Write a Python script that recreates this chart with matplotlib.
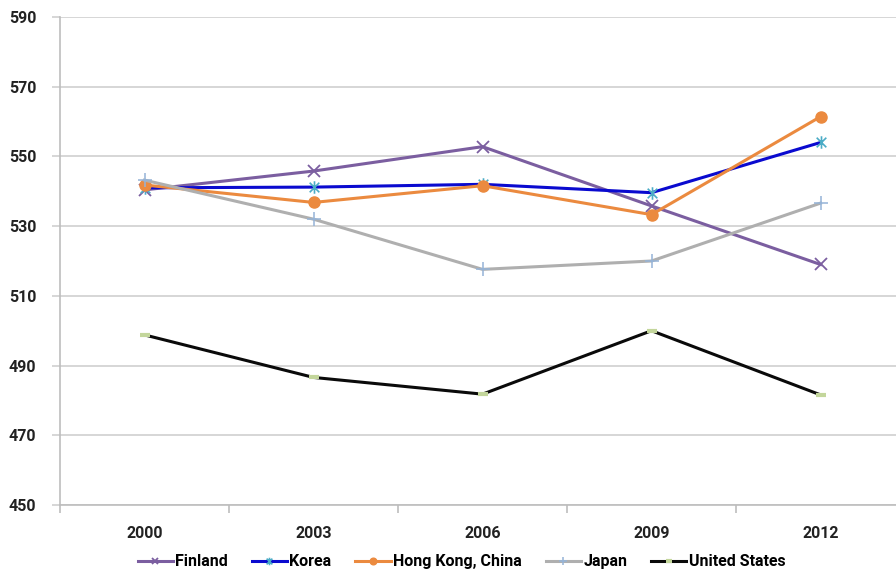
import matplotlib.pyplot as plt
from matplotlib.path import Path

years = ['2000', '2003', '2006', '2009', '2012']
finland = [540.4, 545.8, 552.8, 535.8, 519.0]
korea = [541.0, 541.2, 542.0, 539.6, 554.0]
hong_kong = [541.8, 536.8, 541.6, 533.3, 561.4]
japan = [543.2, 532.0, 517.6, 520.0, 536.6]
united_states = [498.8, 486.6, 481.8, 500.0, 481.6]

plt.rcParams['font.family'] = ['Roboto', 'DejaVu Sans']

# asterisk marker like the spreadsheet "star" (x plus a vertical bar)
star = Path([(-1, -1), (1, 1), (-1, 1), (1, -1), (0, -1.3), (0, 1.3)],
            [Path.MOVETO, Path.LINETO] * 3)

fig = plt.figure(figsize=(8.96, 5.71), dpi=100)
ax = fig.add_axes([60 / 896, 1 - 505 / 571, 845 / 896, 488 / 571])

x = range(len(years))
ax.plot(x, finland, color='#7B5EA0', lw=2.2, marker='x', ms=8, mew=1.3,
        mec='#7B5EA0', label='Finland')
ax.plot(x, korea, color='#0A0ACF', lw=2.2, marker=star, ms=9, mew=1.2,
        mec='#4BACC6', label='Korea')
ax.plot(x, hong_kong, color='#EB8A3F', lw=2.2, marker='o', ms=8,
        mfc='#EB8A3F', mec='#EB8A3F', label='Hong Kong, China')
ax.plot(x, japan, color='#AFAFAF', lw=2.2, marker='+', ms=10, mew=1.1,
        mec='#95B3D7', label='Japan')
ax.plot(x, united_states, color='#0A0A0A', lw=2.2, marker='_', ms=7, mew=3,
        mec='#C3D69B', label='United States')

ax.set_xlim(-0.5, 4.5)
ax.set_ylim(450, 590)
ax.set_yticks(range(450, 591, 20))
ax.set_xticks(list(x))
ax.set_xticklabels(years)
ax.set_xticks([i - 0.5 for i in range(6)], minor=True)

ax.grid(axis='y', color='#D0D0D0', lw=1.2)
ax.set_axisbelow(True)
for s in ['top', 'right']:
    ax.spines[s].set_visible(False)
for s in ['left', 'bottom']:
    ax.spines[s].set_color('#BDBDBD')
    ax.spines[s].set_linewidth(1.2)

ax.tick_params(axis='y', length=6, color='#D0D0D0', width=1.2, pad=11,
               labelsize=11.5)
ax.tick_params(axis='x', which='major', length=0, pad=15, labelsize=11.5)
ax.tick_params(axis='x', which='minor', length=6, color='#BDBDBD', width=1.2)
for lab in ax.get_xticklabels() + ax.get_yticklabels():
    lab.set_fontweight('bold')
    lab.set_color('#222222')

fig.legend(loc='center', bbox_to_anchor=(0.515, 0.016), ncol=5, frameon=False,
           handlelength=2.2, handletextpad=0.15, columnspacing=1.5,
           markerscale=0.6, prop={'size': 11.5, 'weight': 'bold'})

fig.savefig('out.png', dpi=100)
